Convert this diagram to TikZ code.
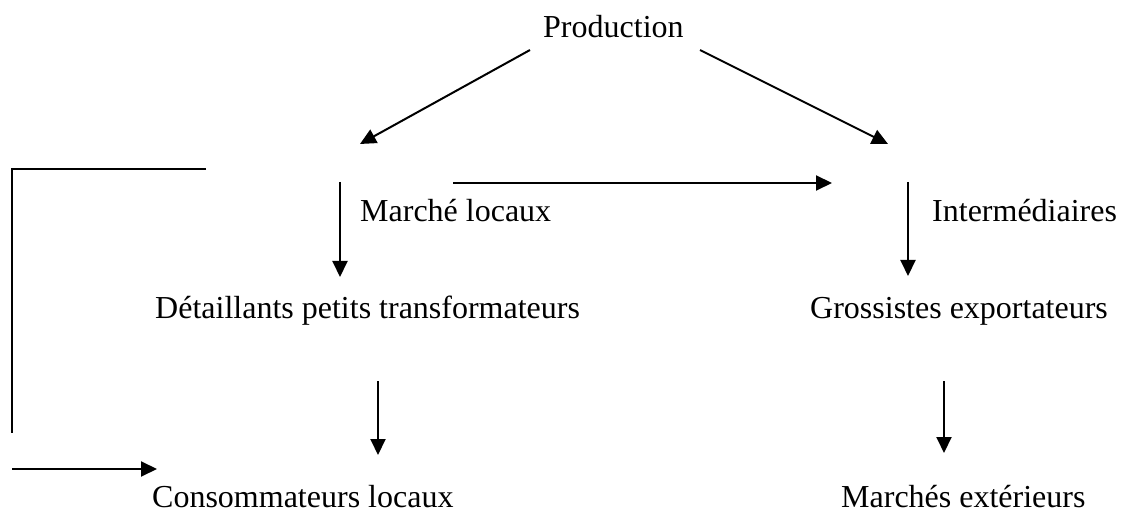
\documentclass[tikz,border=0pt]{standalone}
\usepackage{fontspec}
\setmainfont{Liberation Serif}
\usetikzlibrary{arrows.meta}
\begin{document}
\begin{tikzpicture}[x=1pt,y=-1pt,
  label/.style={anchor=base west,inner sep=0pt,font=\fontsize{32}{38}\selectfont},
  flow/.style={line width=2pt,-{Triangle[length=16pt,width=15pt]}},
  plain/.style={line width=2pt}]
\useasboundingbox (0,0) rectangle (1122,513);
% labels
\node[label] (prod) at (543,38) {Production};
\node[label] (marche) at (360,222) {Marché locaux};
\node[label] (inter) at (932,222) {Intermédiaires};
\node[label] (detail) at (155,318) {Détaillants petits transformateurs};
\node[label] (gross) at (810,318) {Grossistes exportateurs};
\node[label] (conso) at (152,507) {Consommateurs locaux};
\node[label] (ext) at (841,507) {Marchés extérieurs};
% connector end points
\coordinate (p1) at (530,50);
\coordinate (p2) at (700,50);
\coordinate (l1) at (360,144);
\coordinate (r1) at (888,144);
\coordinate (h1) at (453,183);
\coordinate (h2) at (832,183);
\coordinate (m1) at (340,182);
\coordinate (m2) at (340,277);
\coordinate (i1) at (908,182);
\coordinate (i2) at (908,276);
\coordinate (d1) at (378,381);
\coordinate (d2) at (378,455);
\coordinate (g1) at (944,381);
\coordinate (g2) at (944,453);
\coordinate (b1) at (206,169);
\coordinate (b2) at (12,169);
\coordinate (b3) at (12,433);
\coordinate (c1) at (12,469);
\coordinate (c2) at (157,469);
% connectors
\draw[flow] (p1) -- (l1);
\draw[flow] (p2) -- (r1);
\draw[flow] (h1) -- (h2);
\draw[flow] (m1) -- (m2);
\draw[flow] (i1) -- (i2);
\draw[flow] (d1) -- (d2);
\draw[flow] (g1) -- (g2);
\draw[plain] (b1) -- (b2) -- (b3);
\draw[flow] (c1) -- (c2);
\end{tikzpicture}
\end{document}
